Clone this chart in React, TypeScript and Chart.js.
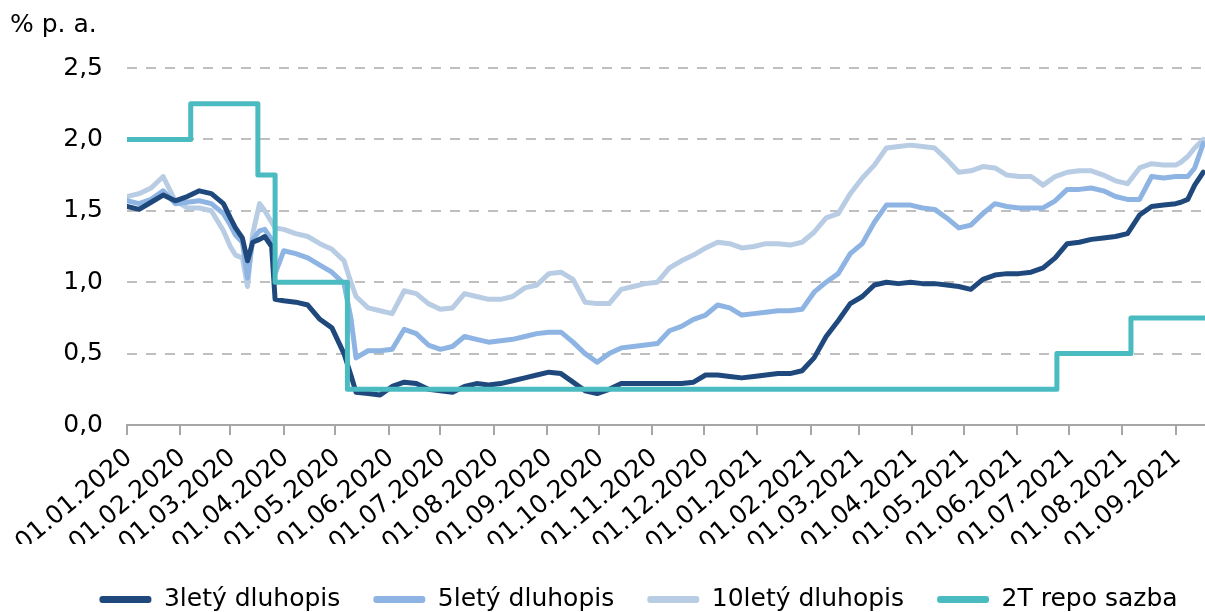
import React, { useEffect, useRef } from 'react';
import { Chart, registerables } from 'chart.js';

Chart.register(...registerables);

// Day offsets from 01.01.2020
const days = [
  0, 7, 14, 21, 28, 35, 42, 49, 56, 60, 63, 67, 70, 73, 77, 80, 84, 86,
  91, 98, 105, 112, 119, 126, 130, 133,
  140, 147, 154, 161, 168, 175, 182, 189, 196, 203, 210, 217, 224, 231, 238, 245,
  252, 259, 266, 273, 280, 287, 294, 301, 308, 315, 322, 329, 336, 343, 350, 357,
  364, 371, 378, 385, 392, 399, 406, 413, 420, 427, 434, 441, 448, 455, 462, 469,
  476, 483, 490, 497, 504, 511, 518, 525, 532, 539, 546, 553, 560, 567, 574, 581,
  588, 595, 602, 609, 612, 616, 620, 625,
];

const bond3y = [
  1.53, 1.51, 1.56, 1.61, 1.57, 1.60, 1.64, 1.62, 1.55, 1.45, 1.38, 1.31, 1.15, 1.28, 1.30, 1.32, 1.25, 0.88,
  0.87, 0.86, 0.84, 0.74, 0.68, 0.50, 0.35, 0.23,
  0.22, 0.21, 0.27, 0.30, 0.29, 0.25, 0.24, 0.23, 0.27, 0.29, 0.28, 0.29, 0.31, 0.33, 0.35, 0.37,
  0.36, 0.30, 0.24, 0.22, 0.25, 0.29, 0.29, 0.29, 0.29, 0.29, 0.29, 0.30, 0.35, 0.35, 0.34, 0.33,
  0.34, 0.35, 0.36, 0.36, 0.38, 0.47, 0.62, 0.73, 0.85, 0.90, 0.98, 1.00, 0.99, 1.00, 0.99, 0.99,
  0.98, 0.97, 0.95, 1.02, 1.05, 1.06, 1.06, 1.07, 1.10, 1.17, 1.27, 1.28, 1.30, 1.31, 1.32, 1.34,
  1.47, 1.53, 1.54, 1.55, 1.56, 1.58, 1.68, 1.77,
];

const bond5y = [
  1.57, 1.55, 1.58, 1.64, 1.55, 1.56, 1.57, 1.55, 1.48, 1.40, 1.33, 1.28, 1.03, 1.30, 1.36, 1.37, 1.30, 1.06,
  1.22, 1.20, 1.17, 1.12, 1.07, 0.99, 0.75, 0.47,
  0.52, 0.52, 0.53, 0.67, 0.64, 0.56, 0.53, 0.55, 0.62, 0.60, 0.58, 0.59, 0.60, 0.62, 0.64, 0.65,
  0.65, 0.58, 0.50, 0.44, 0.50, 0.54, 0.55, 0.56, 0.57, 0.66, 0.69, 0.74, 0.77, 0.84, 0.82, 0.77,
  0.78, 0.79, 0.80, 0.80, 0.81, 0.93, 1.00, 1.06, 1.20, 1.27, 1.42, 1.54, 1.54, 1.54, 1.52, 1.51,
  1.45, 1.38, 1.40, 1.48, 1.55, 1.53, 1.52, 1.52, 1.52, 1.57, 1.65, 1.65, 1.66, 1.64, 1.60, 1.58,
  1.58, 1.74, 1.73, 1.74, 1.74, 1.74, 1.80, 1.97,
];

const bond10y = [
  1.60, 1.62, 1.66, 1.74, 1.57, 1.52, 1.52, 1.50, 1.36, 1.25, 1.19, 1.17, 0.97, 1.34, 1.55, 1.50, 1.42, 1.38,
  1.37, 1.34, 1.32, 1.27, 1.23, 1.15, 1.00, 0.90,
  0.82, 0.80, 0.78, 0.94, 0.92, 0.85, 0.81, 0.82, 0.92, 0.90, 0.88, 0.88, 0.90, 0.96, 0.98, 1.06,
  1.07, 1.02, 0.86, 0.85, 0.85, 0.95, 0.97, 0.99, 1.00, 1.10, 1.15, 1.19, 1.24, 1.28, 1.27, 1.24,
  1.25, 1.27, 1.27, 1.26, 1.28, 1.35, 1.45, 1.48, 1.62, 1.73, 1.82, 1.94, 1.95, 1.96, 1.95, 1.94,
  1.86, 1.77, 1.78, 1.81, 1.80, 1.75, 1.74, 1.74, 1.68, 1.74, 1.77, 1.78, 1.78, 1.75, 1.71, 1.69,
  1.80, 1.83, 1.82, 1.82, 1.84, 1.88, 1.94, 2.00,
];

const repoDays = [0, 37, 76, 86, 128, 540, 583, 626];
const repoRate = [2.0, 2.25, 1.75, 1.0, 0.25, 0.5, 0.75, 0.75];

const tickDays = [0, 31, 60, 91, 121, 152, 182, 213, 244, 274, 305, 335, 366, 397, 425, 456, 486, 517, 547, 578, 609];
const tickLabels = [
  '01.01.2020', '01.02.2020', '01.03.2020', '01.04.2020', '01.05.2020', '01.06.2020', '01.07.2020',
  '01.08.2020', '01.09.2020', '01.10.2020', '01.11.2020', '01.12.2020', '01.01.2021', '01.02.2021',
  '01.03.2021', '01.04.2021', '01.05.2021', '01.06.2021', '01.07.2021', '01.08.2021', '01.09.2021',
];

const seriesNames = ['3letý dluhopis', '5letý dluhopis', '10letý dluhopis', '2T repo sazba'];
const seriesColors = ['#1f497d', '#8db4e2', '#b8cce4', '#4bbbc2'];
const yUnit = '% p. a.';

const FONT = 'DejaVu Sans';

export default function App() {
  const ref = useRef<HTMLCanvasElement | null>(null);

  useEffect(() => {
    const canvas = ref.current;
    if (!canvas) return;

    const toPts = (xs: number[], ys: number[]) => xs.map((x, i) => ({ x, y: ys[i] }));

    const titlePlugin = {
      id: 'unitTitle',
      afterDraw(chart: any) {
        const ctx = chart.ctx;
        ctx.save();
        ctx.font = `25px "${FONT}"`;
        ctx.fillStyle = '#000';
        ctx.textAlign = 'left';
        ctx.textBaseline = 'middle';
        ctx.fillText(yUnit, 10, 25);
        ctx.restore();
      },
    };

    const legendShift = {
      id: 'legendShift',
      afterLayout(chart: any) {
        const lg = chart.legend;
        if (lg) {
          lg.left += 36;
          lg.right += 36;
          lg.top += 10;
          lg.bottom += 10;
        }
      },
    };

    const chart = new Chart(canvas, {
      type: 'line',
      data: {
        datasets: [
          { label: seriesNames[0], data: toPts(days, bond3y), borderColor: seriesColors[0], backgroundColor: seriesColors[0], borderWidth: 5, order: 1 },
          { label: seriesNames[1], data: toPts(days, bond5y), borderColor: seriesColors[1], backgroundColor: seriesColors[1], borderWidth: 5, order: 2 },
          { label: seriesNames[2], data: toPts(days, bond10y), borderColor: seriesColors[2], backgroundColor: seriesColors[2], borderWidth: 5, order: 3 },
          { label: seriesNames[3], data: toPts(repoDays, repoRate), borderColor: seriesColors[3], backgroundColor: seriesColors[3], borderWidth: 5, stepped: 'before', order: 0 },
        ],
      },
      options: {
        animation: false,
        responsive: false,
        events: [],
        layout: { padding: { top: 68, left: 0, right: 0, bottom: 0 } },
        elements: {
          point: { radius: 0 },
          line: { tension: 0, borderJoinStyle: 'round', borderCapStyle: 'round' },
        },
        scales: {
          x: {
            type: 'linear',
            min: 0,
            max: 626,
            afterBuildTicks: (s: any) => {
              s.ticks = tickDays.map((v) => ({ value: v }));
            },
            afterFit: (s: any) => {
              s.height = 119;
              s.paddingLeft = 0;
              s.paddingRight = 0;
            },
            ticks: {
              autoSkip: false,
              maxRotation: 40,
              minRotation: 40,
              padding: 8,
              labelOffset: 2,
              color: '#000',
              font: { family: FONT, size: 25 },
              callback: (v: any) => {
                const i = tickDays.indexOf(Number(v));
                return i >= 0 ? tickLabels[i] : '';
              },
            },
            grid: { drawOnChartArea: false, drawTicks: true, tickLength: 10, color: '#a6a6a6', lineWidth: 2 },
            border: { display: true, color: '#a6a6a6', width: 2 },
          },
          y: {
            min: 0,
            max: 2.5,
            afterFit: (s: any) => {
              s.width = 127;
            },
            ticks: {
              stepSize: 0.5,
              padding: 24,
              color: '#000',
              font: { family: FONT, size: 25 },
              callback: (v: any) => Number(v).toFixed(1).replace('.', ','),
            },
            grid: {
              color: (c: any) => (c.tick && c.tick.value === 0 ? 'rgba(0,0,0,0)' : '#bfbfbf'),
              lineWidth: 2,
              drawTicks: false,
            },
            border: { display: false, dash: [10, 9] },
          },
        },
        plugins: {
          legend: {
            position: 'bottom',
            labels: {
              boxWidth: 52,
              boxHeight: 7,
              padding: 33,
              color: '#000',
              font: { family: FONT, size: 25 },
              useBorderRadius: true,
              borderRadius: 3,
              sort: (a: any, b: any) => a.datasetIndex - b.datasetIndex,
              generateLabels: (ch: any) =>
                (Chart.defaults.plugins.legend.labels.generateLabels as any)(ch).map((l: any) => ({
                  ...l,
                  fillStyle: l.strokeStyle,
                  lineWidth: 0,
                })),
            },
          },
          tooltip: { enabled: false },
        },
      } as any,
      plugins: [titlePlugin, legendShift],
    });

    return () => chart.destroy();
  }, []);

  return (
    <div style={{ position: 'absolute', left: 0, top: 0, width: 1205, height: 612, background: '#fff' }}>
      <canvas ref={ref} width={1205} height={612} style={{ display: 'block', width: 1205, height: 612 }} />
    </div>
  );
}
